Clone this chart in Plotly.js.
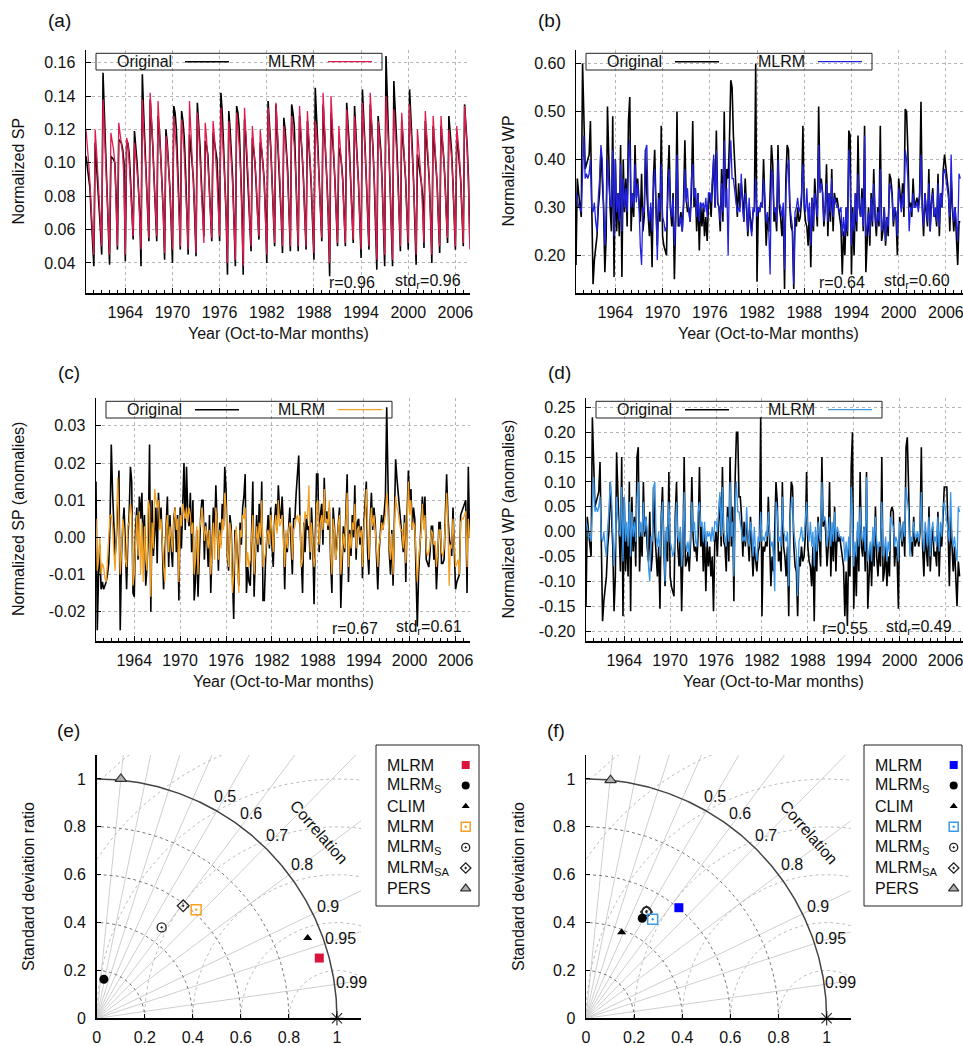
<!DOCTYPE html>
<html><head><meta charset="utf-8">
<script src="https://cdn.plot.ly/plotly-3.0.1.min.js"></script>
<style>html,body{margin:0;padding:0;background:#fff}#chart{width:963px;height:1046px}</style>
</head><body><div id="chart"></div>
<script>
// ---------------- DATA ----------------
const firstYear = 1959;          // first Oct-to-Mar season
const monthsPerSeason = 6;       // Oct, Nov, Dec, Jan, Feb, Mar
const yearTicks = [1964, 1970, 1976, 1982, 1988, 1994, 2000, 2006];
const spTicks = [0.04, 0.06, 0.08, 0.10, 0.12, 0.14, 0.16];
const wpTicks = [0.20, 0.30, 0.40, 0.50, 0.60];
const spAnomTicks = [-0.02, -0.01, 0.00, 0.01, 0.02, 0.03];
const wpAnomTicks = [-0.20, -0.15, -0.10, -0.05, 0.00, 0.05, 0.10, 0.15, 0.20, 0.25];
const taylorTicks = [0, 0.2, 0.4, 0.6, 0.8, 1];

// (a) Normalized SP
const spOriginal = [
0.104,0.098,0.092,0.085,0.068,0.053, 0.038,0.112,0.100,0.090,0.075,0.060,
0.045,0.154,0.130,0.110,0.080,0.060, 0.039,0.104,0.103,0.102,0.100,0.080,
0.048,0.114,0.113,0.112,0.108,0.100, 0.041,0.110,0.112,0.105,0.090,0.070,
0.054,0.119,0.110,0.100,0.085,0.070, 0.038,0.153,0.130,0.110,0.090,0.070,
0.053,0.138,0.125,0.110,0.090,0.070, 0.053,0.128,0.120,0.105,0.090,0.070,
0.042,0.120,0.112,0.100,0.085,0.065, 0.040,0.134,0.130,0.120,0.100,0.075,
0.048,0.131,0.125,0.115,0.095,0.070, 0.045,0.117,0.110,0.100,0.090,0.068,
0.044,0.136,0.125,0.110,0.090,0.070, 0.056,0.113,0.110,0.105,0.090,0.070,
0.053,0.118,0.112,0.106,0.102,0.080, 0.053,0.142,0.130,0.110,0.090,0.068,
0.033,0.131,0.120,0.105,0.090,0.065, 0.038,0.134,0.130,0.120,0.100,0.075,
0.033,0.126,0.115,0.100,0.085,0.065, 0.047,0.115,0.108,0.100,0.085,0.065,
0.054,0.112,0.108,0.100,0.090,0.070, 0.040,0.137,0.125,0.110,0.090,0.068,
0.050,0.135,0.120,0.105,0.090,0.068, 0.046,0.127,0.120,0.110,0.095,0.070,
0.047,0.135,0.130,0.122,0.100,0.075, 0.047,0.128,0.118,0.105,0.090,0.068,
0.048,0.125,0.115,0.100,0.085,0.065, 0.042,0.145,0.130,0.110,0.090,0.068,
0.053,0.135,0.120,0.105,0.088,0.066, 0.032,0.130,0.120,0.105,0.090,0.065,
0.050,0.109,0.106,0.100,0.090,0.070, 0.050,0.136,0.125,0.110,0.090,0.068,
0.052,0.134,0.120,0.105,0.088,0.066, 0.043,0.144,0.130,0.110,0.090,0.068,
0.048,0.135,0.125,0.110,0.090,0.068, 0.036,0.128,0.120,0.108,0.090,0.066,
0.038,0.164,0.140,0.115,0.090,0.068, 0.038,0.149,0.135,0.115,0.095,0.068,
0.047,0.125,0.115,0.105,0.090,0.068, 0.048,0.144,0.130,0.110,0.090,0.068,
0.039,0.105,0.100,0.095,0.088,0.080, 0.049,0.125,0.115,0.105,0.090,0.068,
0.040,0.122,0.112,0.100,0.088,0.066, 0.046,0.122,0.114,0.104,0.090,0.068,
0.052,0.128,0.120,0.108,0.090,0.068, 0.048,0.115,0.110,0.100,0.090,0.070,
0.050,0.135,0.125,0.110,0.090,0.053];
const spMlrm = [
0.120,0.112,0.100,0.088,0.070,0.058, 0.045,0.120,0.108,0.095,0.080,0.062,
0.050,0.138,0.120,0.105,0.085,0.062, 0.045,0.118,0.113,0.108,0.100,0.075,
0.050,0.124,0.118,0.110,0.105,0.090, 0.045,0.115,0.112,0.100,0.085,0.070,
0.056,0.112,0.105,0.095,0.085,0.070, 0.048,0.138,0.125,0.105,0.090,0.072,
0.055,0.142,0.128,0.110,0.090,0.070, 0.056,0.137,0.122,0.108,0.090,0.070,
0.046,0.116,0.110,0.100,0.085,0.068, 0.048,0.128,0.120,0.108,0.090,0.070,
0.050,0.126,0.118,0.105,0.090,0.068, 0.048,0.137,0.120,0.105,0.090,0.070,
0.046,0.130,0.120,0.105,0.088,0.068, 0.052,0.124,0.115,0.100,0.088,0.070,
0.055,0.125,0.116,0.105,0.090,0.072, 0.056,0.133,0.120,0.105,0.088,0.068,
0.040,0.125,0.115,0.100,0.085,0.065, 0.042,0.130,0.122,0.110,0.095,0.070,
0.038,0.133,0.120,0.105,0.088,0.065, 0.050,0.122,0.112,0.100,0.088,0.068,
0.056,0.120,0.112,0.100,0.088,0.070, 0.045,0.133,0.122,0.108,0.090,0.068,
0.052,0.136,0.122,0.106,0.090,0.070, 0.050,0.122,0.115,0.105,0.090,0.070,
0.050,0.128,0.120,0.110,0.095,0.070, 0.050,0.134,0.120,0.105,0.090,0.068,
0.050,0.131,0.118,0.104,0.088,0.066, 0.046,0.125,0.118,0.105,0.090,0.068,
0.055,0.142,0.125,0.108,0.090,0.068, 0.040,0.140,0.125,0.108,0.090,0.066,
0.052,0.122,0.112,0.100,0.088,0.068, 0.052,0.132,0.120,0.106,0.090,0.068,
0.054,0.128,0.116,0.104,0.088,0.066, 0.048,0.136,0.124,0.108,0.090,0.068,
0.050,0.142,0.128,0.110,0.092,0.068, 0.042,0.125,0.115,0.104,0.088,0.066,
0.045,0.140,0.128,0.110,0.090,0.068, 0.042,0.132,0.122,0.108,0.090,0.068,
0.050,0.130,0.118,0.105,0.090,0.068, 0.052,0.135,0.122,0.108,0.090,0.068,
0.045,0.120,0.110,0.100,0.088,0.070, 0.052,0.131,0.120,0.105,0.090,0.068,
0.045,0.128,0.116,0.104,0.088,0.066, 0.050,0.128,0.117,0.105,0.090,0.068,
0.055,0.120,0.112,0.104,0.090,0.068, 0.050,0.122,0.114,0.104,0.090,0.070,
0.052,0.134,0.122,0.108,0.085,0.048];

// (b) Normalized WP
const wpOriginal = [
0.18,0.36,0.33,0.31,0.28,0.60, 0.46,0.38,0.39,0.40,0.41,0.48, 0.28,0.14,0.19,0.22,0.24,0.30,
0.33,0.42,0.35,0.30,0.165,0.24, 0.51,0.40,0.30,0.25,0.49,0.155, 0.40,0.25,0.33,0.24,0.43,0.155,
0.40,0.29,0.36,0.26,0.48,0.53, 0.25,0.33,0.28,0.43,0.32,0.36, 0.30,0.27,0.37,0.25,0.28,0.42,
0.33,0.28,0.24,0.30,0.175,0.36, 0.42,0.30,0.22,0.33,0.27,0.47, 0.24,0.22,0.21,0.20,0.36,0.43,
0.30,0.26,0.33,0.15,0.28,0.50, 0.26,0.27,0.29,0.25,0.31,0.44, 0.32,0.29,0.30,0.27,0.33,0.48,
0.30,0.34,0.25,0.33,0.21,0.31, 0.26,0.30,0.24,0.28,0.23,0.31, 0.33,0.28,0.35,0.40,0.30,0.46,
0.31,0.30,0.25,0.38,0.27,0.50, 0.30,0.38,0.36,0.44,0.565,0.55, 0.45,0.38,0.35,0.28,0.35,0.30,
0.35,0.32,0.27,0.36,0.30,0.24, 0.30,0.28,0.25,0.29,0.30,0.60, 0.145,0.30,0.29,0.31,0.30,0.40,
0.30,0.22,0.28,0.25,0.33,0.43, 0.39,0.27,0.29,0.25,0.43,0.30, 0.28,0.24,0.30,0.13,0.36,0.43,
0.42,0.30,0.26,0.25,0.13,0.28, 0.26,0.30,0.27,0.28,0.32,0.47, 0.30,0.27,0.26,0.22,0.30,0.175,
0.32,0.25,0.36,0.30,0.26,0.51, 0.34,0.36,0.33,0.26,0.30,0.39, 0.24,0.33,0.27,0.38,0.25,0.33,
0.31,0.32,0.30,0.28,0.26,0.16, 0.25,0.20,0.30,0.24,0.46,0.45, 0.16,0.30,0.20,0.33,0.25,0.45,
0.30,0.28,0.34,0.25,0.47,0.165, 0.24,0.30,0.22,0.33,0.26,0.38, 0.28,0.24,0.30,0.26,0.47,0.23,
0.25,0.30,0.22,0.28,0.24,0.37, 0.36,0.33,0.26,0.30,0.28,0.20, 0.36,0.33,0.30,0.35,0.28,0.505,
0.50,0.42,0.30,0.31,0.28,0.36, 0.30,0.31,0.32,0.30,0.33,0.52, 0.30,0.24,0.33,0.29,0.26,0.38,
0.25,0.31,0.34,0.28,0.29,0.26, 0.37,0.24,0.33,0.30,0.38,0.41, 0.38,0.35,0.33,0.25,0.36,0.30,
0.25,0.30,0.24,0.18,0.27,0.27];
const wpMlrm = [
0.33,0.32,0.30,0.30,0.29,0.38, 0.45,0.36,0.37,0.36,0.37,0.40, 0.30,0.29,0.31,0.27,0.25,0.32,
0.36,0.43,0.40,0.31,0.22,0.29, 0.40,0.35,0.31,0.30,0.42,0.24, 0.40,0.29,0.33,0.27,0.39,0.25,
0.36,0.30,0.34,0.29,0.40,0.44, 0.30,0.33,0.30,0.39,0.31,0.35, 0.31,0.22,0.18,0.30,0.29,0.42,
0.43,0.30,0.27,0.31,0.25,0.34, 0.38,0.30,0.19,0.32,0.29,0.39, 0.28,0.27,0.25,0.26,0.33,0.38,
0.30,0.28,0.32,0.22,0.27,0.41, 0.29,0.26,0.28,0.25,0.30,0.38, 0.31,0.34,0.29,0.27,0.36,0.39,
0.32,0.34,0.28,0.33,0.27,0.31, 0.30,0.31,0.29,0.32,0.28,0.33, 0.33,0.31,0.36,0.41,0.30,0.42,
0.31,0.30,0.27,0.35,0.29,0.44, 0.30,0.34,0.20,0.38,0.44,0.36, 0.36,0.33,0.31,0.29,0.30,0.29,
0.37,0.30,0.27,0.33,0.31,0.25, 0.32,0.26,0.24,0.30,0.29,0.36, 0.28,0.30,0.29,0.31,0.30,0.36,
0.31,0.27,0.29,0.25,0.16,0.38, 0.36,0.29,0.30,0.27,0.40,0.31, 0.30,0.28,0.31,0.17,0.33,0.38,
0.40,0.31,0.28,0.26,0.14,0.29, 0.30,0.32,0.29,0.30,0.33,0.39, 0.31,0.29,0.34,0.27,0.31,0.22,
0.32,0.26,0.33,0.30,0.28,0.43, 0.33,0.35,0.33,0.27,0.30,0.35, 0.27,0.33,0.29,0.36,0.28,0.32,
0.31,0.30,0.30,0.29,0.30,0.24, 0.28,0.24,0.30,0.25,0.42,0.36, 0.22,0.29,0.25,0.33,0.27,0.37,
0.30,0.28,0.32,0.26,0.45,0.24, 0.26,0.29,0.24,0.32,0.27,0.35, 0.29,0.26,0.29,0.27,0.38,0.25,
0.26,0.30,0.23,0.28,0.26,0.35, 0.34,0.32,0.27,0.30,0.29,0.24, 0.34,0.31,0.29,0.33,0.30,0.42,
0.40,0.36,0.25,0.30,0.29,0.33, 0.30,0.30,0.31,0.29,0.32,0.41, 0.30,0.26,0.33,0.30,0.27,0.35,
0.25,0.31,0.33,0.28,0.30,0.27, 0.35,0.26,0.33,0.30,0.37,0.38, 0.36,0.34,0.32,0.28,0.41,0.30,
0.27,0.30,0.26,0.23,0.37,0.36];

// (c) Normalized SP anomalies
const spAnomOriginal = [
0.015,-0.025,-0.010,-0.002,-0.014,-0.012, -0.014,-0.013,-0.012,-0.010,-0.007,0.004,
0.025,0.012,0.005,-0.005,0.000,0.008, 0.018,-0.025,-0.005,0.003,0.008,-0.002,
-0.014,0.000,0.006,0.019,0.015,-0.015, -0.016,0.002,0.008,-0.006,0.011,0.005,
0.012,-0.004,0.006,-0.013,-0.008,0.000, 0.025,-0.020,0.010,-0.005,0.004,0.008,
-0.007,0.012,0.003,0.008,-0.002,-0.014, -0.005,0.004,0.011,-0.008,0.006,-0.003,
-0.008,0.005,0.008,-0.004,0.006,-0.017, 0.008,-0.003,0.012,0.020,0.002,0.019,
0.006,0.003,0.012,-0.004,0.010,-0.017, -0.012,0.002,-0.016,-0.004,0.005,0.010,
0.010,-0.006,0.004,0.000,-0.008,0.006, -0.015,-0.003,0.008,0.000,0.014,0.004,
-0.009,0.004,-0.002,0.009,0.003,0.019, 0.013,-0.005,-0.009,0.006,0.003,-0.010,
-0.022,0.002,0.001,-0.006,-0.013,0.004, -0.002,0.008,0.011,0.017,-0.015,-0.008,
-0.012,-0.013,0.004,0.015,-0.016,-0.005, 0.006,-0.004,0.009,-0.002,0.015,-0.017,
-0.017,-0.006,0.002,0.006,-0.003,0.008, -0.002,-0.008,0.004,0.009,0.002,0.014,
0.007,0.005,0.011,0.002,-0.014,0.001, -0.004,0.003,0.008,-0.002,-0.010,0.005,
0.005,0.012,0.018,0.022,0.004,-0.004, -0.015,0.004,-0.004,0.006,0.002,0.003,
-0.006,0.008,0.000,-0.018,-0.003,0.017, 0.017,-0.004,0.006,0.009,-0.002,0.016,
0.004,0.007,0.002,0.008,-0.006,-0.015, 0.008,0.003,-0.006,-0.002,0.004,0.008,
-0.019,-0.006,0.003,-0.004,0.005,0.017, -0.012,0.002,-0.005,0.006,0.000,0.014,
-0.006,0.004,0.005,-0.002,0.003,-0.011, 0.003,0.008,0.015,-0.004,-0.010,0.004,
0.012,0.002,0.008,0.004,-0.006,-0.014, -0.004,0.001,0.006,0.002,0.007,0.011,
0.035,0.014,-0.004,-0.010,0.002,-0.013, 0.004,0.021,0.016,0.012,0.009,0.005,
0.002,-0.004,0.006,-0.012,0.006,0.018, 0.010,0.013,0.002,0.008,0.005,-0.008,
-0.024,-0.010,-0.004,0.003,0.011,0.004, 0.011,-0.006,-0.007,-0.008,-0.004,0.003,
0.003,-0.006,-0.002,-0.014,-0.006,0.004, 0.004,-0.007,-0.007,-0.006,0.006,0.017,
0.006,0.000,-0.002,-0.005,0.008,-0.006, -0.014,-0.012,-0.011,-0.010,0.006,0.007,
0.008,0.009,0.010,-0.015,0.019,0.000];
const spAnomMlrm = [
0.005,-0.009,-0.006,0.000,-0.010,-0.007, -0.008,-0.011,-0.012,-0.006,-0.002,0.006,
0.006,0.003,-0.004,-0.009,0.002,0.016, 0.004,-0.010,-0.004,0.005,0.002,-0.006,
-0.008,0.003,0.004,0.009,0.006,-0.013, -0.010,-0.002,0.006,-0.005,0.007,-0.010,
0.004,-0.012,0.003,-0.006,-0.009,0.010, 0.008,-0.016,0.004,-0.003,0.013,0.010,
0.008,0.010,0.002,0.005,-0.004,-0.008, -0.012,0.002,0.006,-0.004,0.003,0.000,
-0.004,0.004,0.008,0.002,0.005,-0.012, 0.006,0.003,0.009,0.007,0.005,0.008,
0.004,0.008,0.006,0.001,0.004,-0.010, -0.006,0.003,-0.010,0.002,0.004,0.008,
0.005,-0.001,0.003,0.000,-0.003,0.002, -0.010,-0.004,0.004,-0.006,0.008,0.004,
-0.006,0.002,-0.003,0.005,0.002,0.012, 0.008,-0.004,-0.008,0.004,0.001,-0.015,
-0.010,-0.002,0.003,-0.008,-0.015,0.002, 0.000,0.006,0.005,0.008,-0.008,-0.004,
-0.008,-0.006,0.002,0.006,-0.010,-0.002, 0.003,-0.002,0.004,0.000,0.010,-0.008,
-0.006,-0.004,0.001,0.002,-0.002,0.006, 0.002,-0.004,0.003,0.006,0.001,0.010,
0.003,0.004,0.006,0.000,-0.008,0.002, -0.003,0.002,0.004,0.003,-0.006,0.002,
0.003,0.005,0.006,0.004,0.006,-0.008, -0.006,0.003,0.007,0.005,0.006,0.014,
-0.004,0.004,-0.004,-0.008,-0.005,0.009, 0.010,-0.002,0.004,0.006,0.002,0.013,
0.004,0.005,0.003,0.010,-0.004,-0.010, 0.005,0.002,-0.006,-0.003,0.003,0.006,
-0.010,-0.005,0.001,-0.003,0.004,0.012, -0.008,0.001,-0.003,0.004,0.002,0.009,
-0.003,0.002,0.003,0.000,0.002,-0.008, 0.002,0.006,0.013,0.000,-0.006,0.003,
0.008,0.003,0.006,0.002,-0.003,-0.008, -0.002,0.000,0.004,0.002,0.004,0.006,
0.012,0.008,-0.002,-0.006,0.001,-0.010, 0.003,0.011,0.008,0.007,0.004,0.002,
0.002,-0.003,0.004,-0.007,0.003,0.015, 0.006,0.010,0.002,0.004,0.003,-0.006,
-0.012,-0.006,-0.002,0.002,0.009,0.002, 0.006,-0.003,-0.005,-0.004,-0.002,0.002,
0.001,-0.002,-0.001,-0.008,-0.004,0.002, 0.002,-0.004,-0.005,-0.003,0.004,0.012,
0.004,-0.013,-0.002,-0.003,0.005,-0.004, -0.008,-0.007,-0.006,-0.010,0.004,0.005,
0.005,0.006,0.007,-0.008,0.005,0.000];

// (d) Normalized WP anomalies
const wpAnomOriginal = [
-0.15,0.03,0.00,-0.02,-0.05,0.23, 0.12,0.05,0.06,0.07,0.08,0.14, -0.05,-0.18,-0.14,-0.11,-0.09,-0.03,
0.00,0.10,0.02,-0.03,-0.16,-0.09, 0.16,0.07,-0.03,-0.08,0.15,-0.17, 0.07,-0.08,0.00,-0.09,0.10,-0.16,
0.07,-0.04,0.03,-0.07,0.15,0.17, -0.08,0.00,-0.05,0.10,-0.01,0.03, -0.03,-0.06,0.04,-0.08,-0.05,0.09,
0.00,-0.05,-0.09,-0.03,-0.155,0.03, 0.09,-0.03,-0.11,0.00,-0.06,0.12, -0.09,-0.11,-0.12,-0.13,0.03,0.10,
-0.03,-0.07,0.00,-0.16,-0.05,0.15, -0.07,-0.06,-0.04,-0.08,-0.02,0.11, -0.01,-0.04,-0.03,-0.06,0.00,0.13,
-0.03,0.01,-0.08,0.00,-0.12,-0.02, -0.07,-0.03,-0.09,-0.05,-0.16,-0.02, 0.00,-0.05,0.02,0.07,-0.03,0.13,
-0.02,-0.03,-0.08,0.05,-0.06,0.15, -0.03,0.05,-0.14,0.11,0.20,0.20, 0.07,0.07,0.03,-0.05,0.02,-0.03,
0.02,-0.01,-0.06,0.03,-0.03,-0.09, -0.03,-0.05,-0.08,-0.04,-0.03,0.23, -0.17,-0.03,-0.04,-0.02,-0.03,0.07,
-0.03,-0.11,-0.05,-0.08,0.00,0.10, 0.06,-0.06,-0.04,-0.08,0.10,-0.03, -0.05,-0.09,-0.03,-0.17,0.03,0.10,
0.09,-0.03,-0.07,-0.08,-0.17,-0.05, -0.07,-0.03,-0.06,-0.05,-0.01,0.12, -0.03,-0.06,-0.07,-0.11,-0.03,-0.18,
-0.01,-0.08,0.03,-0.03,-0.07,0.15, 0.01,0.03,0.00,-0.07,-0.03,0.10, -0.09,0.00,-0.06,0.05,-0.08,0.00,
-0.02,-0.01,-0.03,-0.05,-0.07,-0.17, -0.08,-0.19,-0.03,-0.09,0.13,0.20, -0.155,-0.03,-0.13,0.00,-0.08,0.12,
-0.03,-0.05,0.01,-0.08,0.12,-0.155, -0.09,-0.03,-0.11,0.00,-0.07,0.05, -0.05,-0.09,-0.03,-0.07,0.15,-0.10,
-0.08,-0.03,-0.11,-0.05,-0.09,0.04, 0.05,0.04,-0.07,-0.03,-0.05,-0.155, 0.03,0.00,-0.03,0.02,-0.05,0.17,
0.19,0.09,-0.03,-0.02,-0.05,0.03, -0.03,-0.02,-0.01,-0.03,0.00,0.17, -0.03,-0.09,0.00,-0.04,-0.07,0.05,
-0.08,-0.02,0.01,-0.05,-0.04,-0.07, 0.04,-0.09,0.00,-0.03,0.05,0.09, 0.09,0.09,0.00,-0.11,0.03,-0.03,
-0.08,-0.03,-0.09,-0.15,-0.06,-0.09];
const wpAnomMlrm = [
0.02,0.01,-0.01,-0.01,-0.02,0.06, 0.11,0.04,0.05,0.04,0.05,0.07, -0.01,-0.02,0.00,-0.03,-0.05,0.01,
0.04,0.10,0.07,0.00,-0.07,-0.02, 0.07,0.03,0.00,-0.01,0.09,-0.06, 0.07,-0.02,0.02,-0.03,0.06,-0.05,
0.04,-0.01,0.02,-0.02,0.07,0.10, -0.01,0.02,-0.01,0.06,0.00,0.03, 0.00,-0.07,-0.10,-0.01,-0.02,0.09,
0.10,-0.01,-0.03,0.00,-0.05,0.02, 0.06,-0.01,-0.10,0.01,-0.02,0.06, -0.02,-0.03,-0.05,-0.04,0.02,0.06,
-0.01,-0.02,0.01,-0.07,-0.03,0.08, -0.02,-0.04,-0.02,-0.05,-0.01,0.06, 0.00,0.02,-0.02,-0.03,0.04,0.06,
0.01,0.02,-0.02,0.02,-0.03,0.00, -0.01,0.00,-0.02,0.01,-0.02,0.02, 0.02,0.00,0.04,0.08,-0.01,0.09,
0.00,-0.01,-0.03,0.03,-0.02,0.10, -0.01,0.02,-0.09,0.06,0.10,0.04, 0.04,0.02,0.00,-0.02,-0.01,-0.02,
0.05,-0.01,-0.03,0.02,0.00,-0.05, 0.01,-0.04,-0.06,-0.01,-0.02,0.04, -0.02,-0.01,-0.02,0.00,-0.01,0.04,
0.00,-0.03,-0.02,-0.05,-0.12,0.06, 0.04,-0.02,-0.01,-0.03,0.07,0.00, -0.01,-0.02,0.00,-0.11,0.02,0.06,
0.07,0.00,-0.02,-0.04,-0.13,-0.02, -0.01,0.01,-0.02,-0.01,0.02,0.06, 0.00,-0.02,0.02,-0.03,0.00,-0.07,
0.01,-0.04,0.02,-0.01,-0.02,0.10, 0.02,0.03,0.02,-0.03,-0.01,0.03, -0.03,0.02,-0.02,0.04,-0.02,0.01,
0.00,-0.01,-0.01,-0.02,-0.01,-0.06, -0.02,-0.06,-0.01,-0.05,0.09,0.04, -0.07,-0.02,-0.05,0.02,-0.03,0.05,
-0.01,-0.02,0.01,-0.04,0.11,-0.06, -0.04,-0.02,-0.06,0.01,-0.03,0.03, -0.02,-0.04,-0.02,-0.03,0.06,-0.05,
-0.04,-0.01,-0.06,-0.02,-0.04,0.03, 0.02,0.01,-0.03,-0.01,-0.02,-0.06, 0.02,0.00,-0.02,0.02,-0.01,0.09,
0.07,0.04,-0.05,-0.01,-0.02,0.02, -0.01,-0.01,0.00,-0.02,0.01,0.08, -0.01,-0.04,0.02,-0.01,-0.03,0.03,
-0.05,0.00,0.02,-0.02,-0.01,-0.03, 0.03,-0.04,0.02,-0.01,0.05,0.06, 0.04,0.02,0.01,-0.02,0.08,-0.01,
-0.03,-0.01,-0.04,-0.06,0.05,0.04];

// Taylor diagrams: standard deviation ratio and correlation of each forecast
const taylorNames = ['MLRM', 'MLRM<sub>S</sub>', 'CLIM', 'MLRM', 'MLRM<sub>S</sub>', 'MLRM<sub>SA</sub>', 'PERS'];
const spTaylorStd  = [0.960, 0.166, 0.940, 0.614, 0.466, 0.592, 1.005];
const spTaylorCorr = [0.965, 0.180, 0.934, 0.674, 0.580, 0.608, 0.100];
const wpTaylorStd  = [0.602, 0.479, 0.389, 0.498, 0.514, 0.510, 1.000];
const wpTaylorCorr = [0.641, 0.488, 0.381, 0.556, 0.490, 0.492, 0.102];
const corrGrid = [0.1, 0.2, 0.3, 0.4, 0.5, 0.6, 0.7, 0.8, 0.9, 0.95, 0.99];
const corrLabels = [0.5, 0.6, 0.7, 0.8, 0.9, 0.95, 0.99];
const stdArcs = [0.2, 0.4, 0.6, 0.8];
const rmsArcs = [0.2, 0.4, 0.6, 0.8, 1.0, 1.2, 1.4];
const statsText = [['r=0.96', 'std<sub>r</sub>=0.96'], ['r=0.64', 'std<sub>r</sub>=0.60'],
                   ['r=0.67', 'std<sub>r</sub>=0.61'], ['r=0.55', 'std<sub>r</sub>=0.49']];

// ---------------- LAYOUT HELPERS ----------------
const W = 963, H = 1046;
const PX = p => p / W, PY = p => 1 - p / H;
const FONT = 'Liberation Sans, Arial, Helvetica, sans-serif';

const months = [];
for (let i = 0; i < spOriginal.length; i++) months.push(firstYear + i / monthsPerSeason);

const tsPanels = [
  {id: '',  L: 86,  R: 470, T: 50,  B: 293, yr: [0.022, 0.1676], ticks: spTicks, orig: spOriginal, mlrm: spMlrm, color: '#dc1c4c',
   ytitle: 'Normalized SP', ytx: 18, tag: '(a)', tagx: 59.5, tagy: 20, xtx: 278, xty: 333, rx: 351.5, sx: 427.5, sy: 281},
  {id: '2', L: 576, R: 963, T: 50,  B: 293, yr: [0.1215, 0.628], ticks: wpTicks, orig: wpOriginal, mlrm: wpMlrm, color: '#2222dd',
   ytitle: 'Normalized WP', ytx: 508, tag: '(b)', tagx: 549.7, tagy: 20, xtx: 768, xty: 333, rx: 841.7, sx: 917, sy: 281},
  {id: '3', L: 96,  R: 470, T: 398, B: 641, yr: [-0.0279, 0.0375], ticks: spAnomTicks, orig: spAnomOriginal, mlrm: spAnomMlrm, color: '#f2a024',
   ytitle: 'Normalized SP (anomalies)', ytx: 18.5, tag: '(c)', tagx: 68.7, tagy: 373, xtx: 283, xty: 681.7, rx: 355, sx: 429, sy: 627.5},
  {id: '4', L: 586, R: 963, T: 398, B: 641, yr: [-0.22, 0.269], ticks: wpAnomTicks, orig: wpAnomOriginal, mlrm: wpAnomMlrm, color: '#3b95e6',
   ytitle: 'Normalized WP (anomalies)', ytx: 508, tag: '(d)', tagx: 559, tagy: 373, xtx: 773, xty: 681.7, rx: 845, sx: 919, sy: 627.5},
];
const pxPerYear = [7.86, 7.87, 7.65, 7.65];

const traces = [];
const shapes = [];
const annotations = [];
const layout = {
  width: W, height: H, margin: {l: 0, r: 0, t: 0, b: 0},
  paper_bgcolor: '#fff', plot_bgcolor: 'rgba(0,0,0,0)',
  font: {family: FONT, size: 16, color: '#111'},
  showlegend: false,
};

const ann = (text, x, y, o = {}) => annotations.push(Object.assign({
  text, x: PX(x), y: PY(y), xref: 'paper', yref: 'paper', showarrow: false,
  xanchor: 'center', yanchor: 'middle', font: {size: 16, color: '#111', family: FONT}}, o));

tsPanels.forEach((p, k) => {
  const xa = 'x' + p.id, ya = 'y' + p.id;
  const xr = [firstYear, firstYear + (p.R - p.L) / pxPerYear[k]];
  layout['xaxis' + p.id] = {
    domain: [PX(p.L), PX(p.R)], range: xr, anchor: ya,
    tickmode: 'linear', tick0: yearTicks[0], dtick: yearTicks[1] - yearTicks[0],
    ticks: 'inside', ticklen: 5, tickcolor: '#000', showline: true, linecolor: '#000', linewidth: 1.5,
    showgrid: true, gridcolor: '#b5b5b5', griddash: 'dot', gridwidth: 1, zeroline: false,
    tickfont: {size: 16, color: '#111'}, ticklabelstandoff: 4, ticklabeloverflow: 'allow',
    minor: {tick0: firstYear, dtick: 1, ticks: 'inside', ticklen: 3, tickcolor: '#000', showgrid: false},
  };
  layout['yaxis' + p.id] = {
    domain: [PY(p.B), PY(p.T)], range: p.yr, anchor: xa,
    tickmode: 'array', tickvals: p.ticks, ticktext: p.ticks.map(v => v.toFixed(2)),
    ticks: 'inside', ticklen: 5, tickcolor: '#000', showline: true, linecolor: '#000', linewidth: 1.5,
    showgrid: true, gridcolor: '#b5b5b5', griddash: 'dot', gridwidth: 1, zeroline: false,
    tickfont: {size: 16, color: '#111'}, ticklabelstandoff: 6,
  };
  traces.push({x: months, y: p.orig, xaxis: xa, yaxis: ya, mode: 'lines', line: {color: '#000', width: 1.6}, hoverinfo: 'skip'});
  traces.push({x: months, y: p.mlrm, xaxis: xa, yaxis: ya, mode: 'lines', line: {color: p.color, width: 1.3}, hoverinfo: 'skip'});

  const ly = p.T + 11.7;
  shapes.push({type: 'rect', xref: 'paper', yref: 'paper', x0: PX(p.L + 10), x1: PX(p.L + 296), y0: PY(p.T + 20), y1: PY(p.T + 3.3),
               line: {color: '#222', width: 1}, fillcolor: 'rgba(0,0,0,0)'});
  shapes.push({type: 'line', xref: 'paper', yref: 'paper', x0: PX(p.L + 99), x1: PX(p.L + 143), y0: PY(ly), y1: PY(ly), line: {color: '#000', width: 1.6}});
  shapes.push({type: 'line', xref: 'paper', yref: 'paper', x0: PX(p.L + 242), x1: PX(p.L + 286), y0: PY(ly), y1: PY(ly), line: {color: p.color, width: 1.2}});
  ann('Original', p.L + 88, ly, {xanchor: 'right'});
  ann('MLRM', p.L + 231, ly, {xanchor: 'right'});

  ann(statsText[k][0], p.rx, p.sy + 1);
  ann(statsText[k][1], p.sx, p.sy);
  ann(p.tag, p.tagx, p.tagy, {font: {size: 19, color: '#111', family: FONT}});
  ann(p.ytitle, p.ytx, (p.T + p.B) / 2, {textangle: -90});
  ann('Year (Oct-to-Mar months)', p.xtx, p.xty);
});

// ---------------- TAYLOR DIAGRAMS ----------------
const taylorPanels = [
  {id: '5', L: 96.7, R: 361, T: 755, B: 1018.3, std: spTaylorStd, corr: spTaylorCorr,
   c1: '#dc143c', c4: '#f5a020', tag: '(e)', tagx: 68.5, ytx: 28.3, legL: 376, legR: 479, legId: '7'},
  {id: '6', L: 586, R: 850.7, T: 755, B: 1018.3, std: wpTaylorStd, corr: wpTaylorCorr,
   c1: '#0000ff', c4: '#3a9ae8', tag: '(f)', tagx: 556, ytx: 518.3, legL: 864, legR: 962, legId: '8'},
];

function arc(cx, cy, r, a0, a1) {
  const xs = [], ys = [];
  for (let i = 0; i <= 180; i++) {
    const a = a0 + (a1 - a0) * i / 180;
    xs.push(cx + r * Math.cos(a)); ys.push(cy + r * Math.sin(a));
  }
  return {xs, ys};
}

taylorPanels.forEach(tp => {
  const xa = 'x' + tp.id, ya = 'y' + tp.id;
  const axBase = {
    range: [0, 1.1], tickmode: 'array', tickvals: taylorTicks, ticktext: taylorTicks.map(String),
    ticks: 'inside', ticklen: 4, tickcolor: '#000', showline: true, linecolor: '#000', linewidth: 1.5,
    showgrid: false, zeroline: false, tickfont: {size: 16, color: '#111'},
  };
  layout['xaxis' + tp.id] = Object.assign({}, axBase, {domain: [PX(tp.L), PX(tp.R)], anchor: ya, ticklabelstandoff: 4});
  layout['yaxis' + tp.id] = Object.assign({}, axBase, {domain: [PY(tp.B), PY(tp.T)], anchor: xa, ticklabelstandoff: 6});

  const line = (xs, ys, color, width, dash) => traces.push({x: xs, y: ys, xaxis: xa, yaxis: ya, mode: 'lines',
    line: {color, width, dash}, hoverinfo: 'skip'});
  corrGrid.forEach(c => line([0, 2 * c], [0, 2 * Math.sqrt(1 - c * c)], '#cfcfcf', 1, 'solid'));
  rmsArcs.forEach(r => { const a = arc(1, 0, r, 0, Math.PI); line(a.xs, a.ys, '#bdbdbd', 1, 'dot'); });
  stdArcs.forEach(r => { const a = arc(0, 0, r, 0, Math.PI / 2); line(a.xs, a.ys, '#777', 1, '3px,3px'); });
  const a1 = arc(0, 0, 1, 0, Math.PI / 2); line(a1.xs, a1.ys, '#444', 1.5, 'solid');

  corrLabels.forEach(c => annotations.push({text: String(c), xref: xa, yref: ya,
    x: 1.07 * c, y: 1.07 * Math.sqrt(1 - c * c), showarrow: false, xanchor: 'center', yanchor: 'middle',
    font: {size: 16, color: '#111', family: FONT}}));
  const ca = 40 * Math.PI / 180;
  annotations.push({text: 'Correlation', xref: xa, yref: ya, x: 1.21 * Math.cos(ca), y: 1.21 * Math.sin(ca),
    showarrow: false, textangle: 49, font: {size: 16, color: '#111', family: FONT}});

  traces.push({x: [1], y: [0], xaxis: xa, yaxis: ya, mode: 'markers', cliponaxis: false,
    marker: {symbol: 'asterisk-open', size: 12, color: '#333', line: {color: '#333', width: 1.2}}, hoverinfo: 'skip'});

  const styles = [
    {symbol: 'square', size: 9, color: tp.c1, line: {width: 0}},
    {symbol: 'circle', size: 9, color: '#000', line: {width: 0}},
    {symbol: 'triangle-up', size: 8, color: '#000', line: {width: 0}},
    {symbol: 'square-open-dot', size: 10, color: tp.c4, line: {color: tp.c4, width: 1.5}},
    {symbol: 'circle-open-dot', size: 9, color: '#222', line: {color: '#222', width: 1.3}},
    {symbol: 'diamond-open-dot', size: 9, color: '#222', line: {color: '#222', width: 1.3}},
    {symbol: 'triangle-up', size: 10, color: '#b0b0b0', line: {color: '#333', width: 1.2}},
  ];
  [6, 5, 4, 3, 2, 1, 0].forEach(i => {
    const s = tp.std[i], c = tp.corr[i];
    traces.push({x: [s * c], y: [s * Math.sqrt(1 - c * c)], xaxis: xa, yaxis: ya, mode: 'markers', cliponaxis: false,
      marker: styles[i], hoverinfo: 'skip'});
  });

  ann(tp.tag, tp.tagx, 730, {font: {size: 19, color: '#111', family: FONT}});
  ann('Standard deviation ratio', tp.ytx, 886.7, {textangle: -90});

  // key box: its own invisible axes spanning the box, one row per entry
  const lx = 'x' + tp.legId, ly = 'y' + tp.legId;
  const rowTop = 765, rowStep = 20.6, boxT = 745, boxB = 906;
  layout['xaxis' + tp.legId] = {domain: [PX(tp.legL), PX(tp.legR)], range: [0, tp.legR - tp.legL], visible: false, anchor: ly, fixedrange: true};
  layout['yaxis' + tp.legId] = {domain: [PY(boxB), PY(boxT)], range: [(boxB - rowTop) / rowStep, (boxT - rowTop) / rowStep],
    visible: false, anchor: lx, fixedrange: true};
  shapes.push({type: 'rect', xref: 'paper', yref: 'paper', x0: PX(tp.legL), x1: PX(tp.legR), y0: PY(boxB), y1: PY(boxT),
    line: {color: '#222', width: 1}, fillcolor: 'rgba(0,0,0,0)'});
  taylorNames.forEach((name, i) => {
    annotations.push({text: name, xref: lx, yref: ly, x: 9, y: i, xanchor: 'left', yanchor: 'middle', showarrow: false,
      font: {size: 16, color: '#111', family: FONT}});
    traces.push({x: [89.7], y: [i], xaxis: lx, yaxis: ly, mode: 'markers', cliponaxis: false,
      marker: Object.assign({}, styles[i], {size: styles[i].size - 1}), hoverinfo: 'skip'});
  });
});

layout.shapes = shapes;
layout.annotations = annotations;
Plotly.newPlot('chart', traces, layout, {staticPlot: true, displayModeBar: false});
</script>
</body></html>
